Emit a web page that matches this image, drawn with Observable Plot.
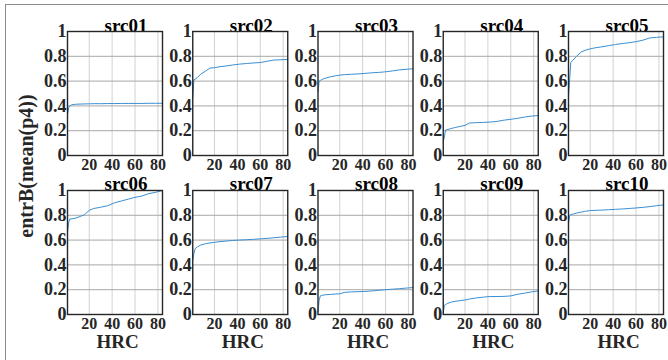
<!DOCTYPE html>
<html><head><meta charset="utf-8">
<script src="https://cdn.jsdelivr.net/npm/d3@7"></script>
<script src="https://cdn.jsdelivr.net/npm/@observablehq/plot@0.6"></script>
<style>
html,body{margin:0;padding:0;background:#fff;}
#wrap{position:relative;width:668px;height:360px;overflow:hidden;background:#fff;}
#frame{position:absolute;left:5px;top:4px;right:-2px;bottom:-2px;border-top:1px solid #8a8a8a;border-left:1px solid #8a8a8a;pointer-events:none;}
</style></head><body><div id="wrap"><div id="frame"></div></div>
<script>
const hrc = [1,2,3,5,8,12,16,20,24,30,36,42,48,54,60,66,72,78,84];
const sources = ["src01","src02","src03","src04","src05","src06","src07","src08","src09","src10"];
const src01 = [0.33,0.385,0.40,0.41,0.413,0.415,0.416,0.417,0.418,0.418,0.419,0.419,0.42,0.42,0.42,0.42,0.421,0.421,0.421];
const src02 = [0.46,0.61,0.615,0.63,0.655,0.68,0.705,0.708,0.715,0.722,0.73,0.737,0.742,0.746,0.75,0.76,0.77,0.772,0.775];
const src03 = [0.515,0.60,0.605,0.615,0.625,0.635,0.642,0.648,0.652,0.655,0.658,0.662,0.667,0.67,0.675,0.682,0.69,0.695,0.70];
const src04 = [0.11,0.15,0.205,0.21,0.218,0.227,0.235,0.243,0.262,0.265,0.267,0.27,0.275,0.285,0.292,0.30,0.31,0.318,0.322];
const src05 = [0.48,0.615,0.75,0.77,0.80,0.835,0.85,0.86,0.868,0.876,0.886,0.895,0.903,0.91,0.918,0.93,0.948,0.953,0.957];
const src06 = [0.665,0.74,0.77,0.772,0.777,0.79,0.805,0.84,0.855,0.865,0.877,0.90,0.915,0.93,0.945,0.955,0.975,0.985,1.0];
const src07 = [0.444,0.49,0.53,0.545,0.56,0.57,0.577,0.582,0.587,0.592,0.597,0.60,0.603,0.606,0.61,0.614,0.619,0.624,0.629];
const src08 = [0.02,0.113,0.15,0.155,0.16,0.162,0.165,0.167,0.178,0.182,0.184,0.186,0.19,0.195,0.20,0.204,0.208,0.213,0.217];
const src09 = [0.01,0.075,0.08,0.09,0.10,0.107,0.112,0.117,0.125,0.134,0.14,0.145,0.145,0.146,0.15,0.163,0.172,0.182,0.19];
const src10 = [0.737,0.80,0.805,0.81,0.818,0.826,0.833,0.838,0.84,0.842,0.845,0.848,0.851,0.855,0.859,0.864,0.87,0.877,0.884];
const yTicks = [0,0.2,0.4,0.6,0.8,1];
const xTicks = [20,40,60,80];
const yTickLabels = ["0","0.2","0.4","0.6","0.8","1"];
const xLabel = "HRC";
const yLabel = "entrB(mean(p4))";

const series = [src01,src02,src03,src04,src05,src06,src07,src08,src09,src10];
const rows = [];
sources.forEach((s,i)=>hrc.forEach((h,j)=>rows.push({src:s,col:i%5,row:Math.floor(i/5),hrc:h,value:series[i][j]})));
const panels = sources.map((s,i)=>({src:s,col:i%5,row:Math.floor(i/5)}));
const bottomPanels = panels.filter(p=>p.row===1);
const font = "'Liberation Serif','Times New Roman',serif";

const chart = Plot.plot({
  width:668, height:360,
  marginLeft:67, marginRight:5, marginTop:31, marginBottom:46,
  style:{fontFamily:font, fontWeight:"bold", background:"transparent", color:"#262626"},
  fx:{domain:[0,1,2,3,4], paddingInner:0.2415, paddingOuter:0, round:false, axis:null},
  fy:{domain:[0,1], paddingInner:0.22, paddingOuter:0, round:false, axis:null},
  x:{domain:[1,84]},
  y:{domain:[0,1]},
  marks:[
    Plot.text(panels,{fx:"col",fy:"row",text:"src",frameAnchor:"top",lineAnchor:"top",dx:11,dy:-13.5,fontSize:19,fill:"#000"}),
    Plot.frame({fill:"white"}),
    Plot.gridX({ticks:xTicks, stroke:"#d2d2d2", strokeOpacity:1}),
    Plot.gridY({ticks:yTicks, stroke:"#a8a8a8", strokeOpacity:1}),
    Plot.line(rows,{fx:"col",fy:"row",x:"hrc",y:"value",z:"src",stroke:"#3a8fd3",strokeWidth:1}),
    Plot.frame({stroke:"#262626",strokeWidth:1.4}),
    Plot.axisY({ticks:yTicks, tickFormat:(d)=>yTickLabels[yTicks.indexOf(d)], tickSize:0, tickPadding:1, fontSize:18, label:null, facetAnchor:null, fill:"#262626"}),
    Plot.axisX({ticks:xTicks, tickSize:0, tickPadding:3, fontSize:16, label:null, facetAnchor:null, fill:"#262626"}),
    Plot.text(bottomPanels,{fx:"col",fy:"row",text:()=>xLabel,frameAnchor:"bottom",lineAnchor:"bottom",dx:2.5,dy:33,fontSize:19,fill:"#262626"})
  ]
});
const svg = d3.select(chart);
svg.append("text")
  .attr("transform","translate(26,166) rotate(-90)")
  .attr("text-anchor","middle")
  .attr("dominant-baseline","central")
  .attr("font-size",20)
  .attr("font-weight","bold")
  .attr("font-family",font)
  .attr("fill","#262626")
  .text(yLabel);
chart.style.position="absolute";
chart.style.left="0";
chart.style.top="0";
document.getElementById("wrap").prepend(chart);
</script>
</body></html>
